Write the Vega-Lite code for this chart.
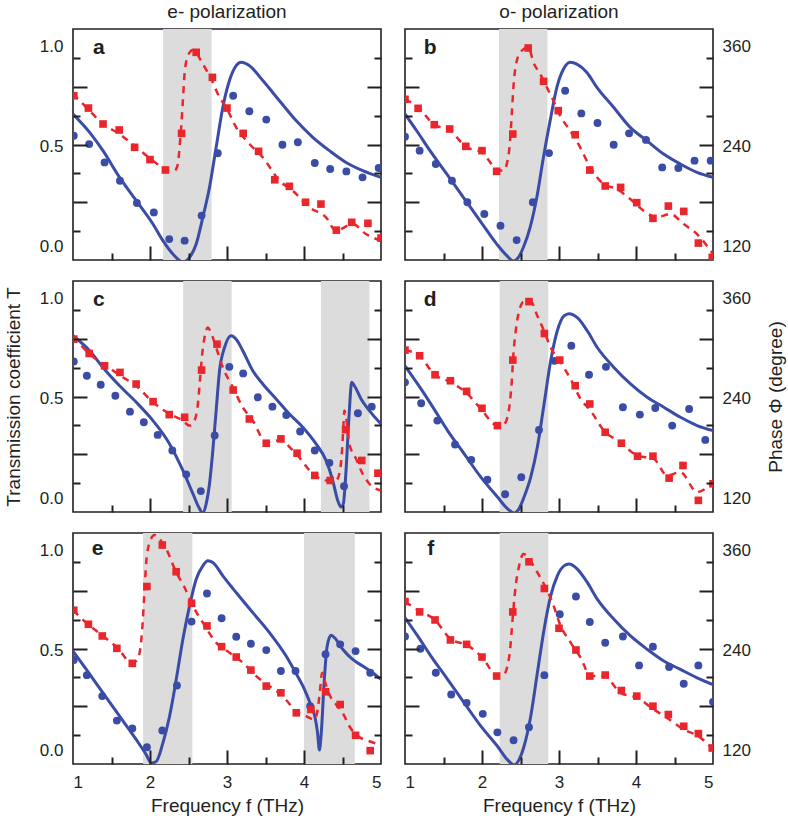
{
  "$schema": "https://vega.github.io/schema/vega-lite/v6.json",
  "padding": {"left": 3, "top": 2, "right": 2, "bottom": 2},
  "config": {
    "view": {"stroke": "#231f20", "strokeWidth": 1.6},
    "font": "Liberation Sans",
    "axis": {"labelFont": "Liberation Sans", "titleFont": "Liberation Sans", "labelColor": "#231f20", "titleColor": "#231f20", "tickColor": "#231f20", "tickWidth": 2, "labelFontSize": 17, "titleFontSize": 19, "titleFontWeight": "normal", "grid": false, "domain": false},
    "title": {"font": "Liberation Sans", "color": "#231f20"},
    "text": {"font": "Liberation Sans", "fontSize": 21, "fontWeight": "bold", "align": "left", "baseline": "alphabetic", "color": "#231f20"}
  },
  "datasets": {
    "aB": [{"f": 2.17, "f2": 2.8}],
    "aC": [{"f":1.0,"T":0.663},{"f":1.216,"T":0.571},{"f":1.389,"T":0.479},{"f":1.605,"T":0.345},{"f":1.822,"T":0.228},{"f":2.038,"T":0.111},{"f":2.168,"T":0.027},{"f":2.297,"T":-0.04},{"f":2.427,"T":-0.08},{"f":2.514,"T":-0.057},{"f":2.6,"T":0.01},{"f":2.686,"T":0.144},{"f":2.773,"T":0.295},{"f":2.859,"T":0.496},{"f":2.946,"T":0.697},{"f":3.032,"T":0.831},{"f":3.119,"T":0.906},{"f":3.184,"T":0.923},{"f":3.292,"T":0.906},{"f":3.465,"T":0.831},{"f":3.681,"T":0.73},{"f":3.897,"T":0.63},{"f":4.114,"T":0.546},{"f":4.33,"T":0.479},{"f":4.546,"T":0.42},{"f":4.762,"T":0.379},{"f":5.0,"T":0.345}],
    "aM": [{"f":1.01,"T":0.554},{"f":1.21,"T":0.512},{"f":1.41,"T":0.42},{"f":1.61,"T":0.328},{"f":1.83,"T":0.216},{"f":2.05,"T":0.169},{"f":2.25,"T":0.035},{"f":2.45,"T":0.027},{"f":2.67,"T":0.153},{"f":2.88,"T":0.466},{"f":3.08,"T":0.755},{"f":3.29,"T":0.677},{"f":3.51,"T":0.635},{"f":3.72,"T":0.509},{"f":3.92,"T":0.521},{"f":4.14,"T":0.417},{"f":4.34,"T":0.387},{"f":4.55,"T":0.375},{"f":4.76,"T":0.345},{"f":4.97,"T":0.392}],
    "aPC": [{"f":1.0,"P":303.2},{"f":1.173,"P":287.2},{"f":1.389,"P":267.1},{"f":1.605,"P":255.0},{"f":1.822,"P":239.0},{"f":2.038,"P":222.9},{"f":2.254,"P":210.8},{"f":2.319,"P":210.8},{"f":2.362,"P":218.9},{"f":2.384,"P":239.0},{"f":2.405,"P":263.1},{"f":2.427,"P":295.2},{"f":2.449,"P":327.4},{"f":2.492,"P":349.5},{"f":2.557,"P":356.3},{"f":2.686,"P":339.4},{"f":2.795,"P":321.3},{"f":2.903,"P":299.2},{"f":2.989,"P":287.2},{"f":3.119,"P":263.1},{"f":3.292,"P":243.0},{"f":3.465,"P":226.9},{"f":3.681,"P":198.8},{"f":3.854,"P":186.7},{"f":4.07,"P":166.6},{"f":4.286,"P":154.6},{"f":4.416,"P":138.5},{"f":4.632,"P":146.6},{"f":4.805,"P":134.5},{"f":5.0,"P":126.5}],
    "aPM": [{"f":1.01,"P":301.2},{"f":1.2,"P":286.3},{"f":1.39,"P":267.1},{"f":1.6,"P":259.9},{"f":1.8,"P":239.0},{"f":2.0,"P":224.2},{"f":2.2,"P":211.7},{"f":2.41,"P":255.8},{"f":2.6,"P":353.5},{"f":2.81,"P":323.3},{"f":3.0,"P":286.3},{"f":3.21,"P":255.8},{"f":3.41,"P":234.2},{"f":3.62,"P":199.9},{"f":3.81,"P":192.0},{"f":4.02,"P":172.8},{"f":4.22,"P":170.6},{"f":4.42,"P":139.2},{"f":4.62,"P":148.6},{"f":4.83,"P":147.4},{"f":5.0,"P":129.6}],
    "bB": [{"f": 2.22, "f2": 2.85}],
    "bC": [{"f":1.0,"T":0.663},{"f":1.152,"T":0.579},{"f":1.325,"T":0.479},{"f":1.542,"T":0.362},{"f":1.758,"T":0.245},{"f":1.975,"T":0.127},{"f":2.192,"T":0.01},{"f":2.322,"T":-0.048},{"f":2.408,"T":-0.075},{"f":2.473,"T":-0.057},{"f":2.538,"T":-0.006},{"f":2.625,"T":0.094},{"f":2.712,"T":0.245},{"f":2.798,"T":0.446},{"f":2.885,"T":0.63},{"f":2.972,"T":0.797},{"f":3.059,"T":0.889},{"f":3.145,"T":0.923},{"f":3.232,"T":0.914},{"f":3.362,"T":0.872},{"f":3.492,"T":0.797},{"f":3.709,"T":0.697},{"f":3.925,"T":0.596},{"f":4.142,"T":0.529},{"f":4.359,"T":0.462},{"f":4.575,"T":0.412},{"f":4.792,"T":0.37},{"f":5.0,"T":0.345}],
    "bM": [{"f":1.0,"T":0.549},{"f":1.19,"T":0.479},{"f":1.4,"T":0.412},{"f":1.61,"T":0.328},{"f":1.81,"T":0.22},{"f":2.03,"T":0.161},{"f":2.24,"T":0.102},{"f":2.45,"T":0.03},{"f":2.66,"T":0.22},{"f":2.87,"T":0.467},{"f":3.08,"T":0.78},{"f":3.29,"T":0.666},{"f":3.5,"T":0.618},{"f":3.71,"T":0.509},{"f":3.91,"T":0.566},{"f":4.13,"T":0.533},{"f":4.34,"T":0.395},{"f":4.55,"T":0.392},{"f":4.76,"T":0.429},{"f":4.97,"T":0.429}],
    "bPC": [{"f":1.0,"P":296.8},{"f":1.173,"P":287.2},{"f":1.368,"P":267.1},{"f":1.585,"P":259.0},{"f":1.802,"P":239.0},{"f":1.997,"P":232.9},{"f":2.192,"P":212.8},{"f":2.278,"P":210.8},{"f":2.322,"P":218.9},{"f":2.365,"P":247.0},{"f":2.387,"P":279.2},{"f":2.408,"P":311.3},{"f":2.452,"P":343.4},{"f":2.517,"P":355.5},{"f":2.603,"P":359.5},{"f":2.668,"P":341.4},{"f":2.755,"P":327.4},{"f":2.842,"P":311.3},{"f":2.928,"P":295.2},{"f":3.015,"P":277.1},{"f":3.145,"P":259.0},{"f":3.275,"P":239.0},{"f":3.405,"P":214.9},{"f":3.579,"P":194.8},{"f":3.752,"P":188.7},{"f":3.925,"P":176.7},{"f":4.099,"P":162.6},{"f":4.272,"P":154.6},{"f":4.445,"P":158.6},{"f":4.619,"P":146.5},{"f":4.792,"P":134.5},{"f":5.0,"P":110.4}],
    "bPM": [{"f":1.0,"P":296.8},{"f":1.17,"P":286.0},{"f":1.38,"P":266.3},{"f":1.58,"P":261.1},{"f":1.79,"P":240.2},{"f":2.0,"P":235.0},{"f":2.19,"P":210.1},{"f":2.4,"P":255.0},{"f":2.6,"P":358.7},{"f":2.8,"P":318.5},{"f":2.99,"P":283.2},{"f":3.21,"P":254.2},{"f":3.4,"P":211.6},{"f":3.6,"P":192.4},{"f":3.8,"P":190.7},{"f":4.01,"P":172.3},{"f":4.22,"P":153.4},{"f":4.42,"P":168.2},{"f":4.62,"P":161.8},{"f":4.81,"P":123.6},{"f":4.99,"P":106.4}],
    "cB": [{"f": 2.43, "f2": 3.06}, {"f": 4.22, "f2": 4.85}],
    "cC": [{"f":1.0,"T":0.815},{"f":1.216,"T":0.74},{"f":1.389,"T":0.656},{"f":1.605,"T":0.564},{"f":1.822,"T":0.481},{"f":2.038,"T":0.389},{"f":2.254,"T":0.272},{"f":2.427,"T":0.139},{"f":2.557,"T":0.022},{"f":2.643,"T":-0.053},{"f":2.686,"T":-0.075},{"f":2.73,"T":-0.028},{"f":2.773,"T":0.072},{"f":2.816,"T":0.239},{"f":2.859,"T":0.439},{"f":2.903,"T":0.639},{"f":2.968,"T":0.756},{"f":3.054,"T":0.815},{"f":3.119,"T":0.798},{"f":3.205,"T":0.74},{"f":3.335,"T":0.639},{"f":3.465,"T":0.573},{"f":3.638,"T":0.498},{"f":3.811,"T":0.422},{"f":3.984,"T":0.356},{"f":4.157,"T":0.272},{"f":4.286,"T":0.189},{"f":4.373,"T":0.089},{"f":4.438,"T":-0.012},{"f":4.481,"T":-0.045},{"f":4.511,"T":-0.028},{"f":4.546,"T":0.139},{"f":4.589,"T":0.439},{"f":4.619,"T":0.581},{"f":4.654,"T":0.564},{"f":4.741,"T":0.498},{"f":4.849,"T":0.439},{"f":5.0,"T":0.372}],
    "cM": [{"f":1.01,"T":0.686},{"f":1.18,"T":0.614},{"f":1.36,"T":0.569},{"f":1.55,"T":0.514},{"f":1.74,"T":0.434},{"f":1.92,"T":0.381},{"f":2.1,"T":0.317},{"f":2.29,"T":0.239},{"f":2.47,"T":0.119},{"f":2.66,"T":0.035},{"f":2.84,"T":0.314},{"f":3.03,"T":0.659},{"f":3.21,"T":0.626},{"f":3.4,"T":0.506},{"f":3.59,"T":0.459},{"f":3.77,"T":0.417},{"f":3.95,"T":0.334},{"f":4.14,"T":0.239},{"f":4.33,"T":0.177},{"f":4.52,"T":0.059},{"f":4.7,"T":0.426},{"f":4.88,"T":0.459}],
    "cPC": [{"f":1.0,"P":315.5},{"f":1.216,"P":293.5},{"f":1.432,"P":279.4},{"f":1.649,"P":265.4},{"f":1.822,"P":255.4},{"f":2.038,"P":235.4},{"f":2.254,"P":221.4},{"f":2.427,"P":213.4},{"f":2.514,"P":207.3},{"f":2.578,"P":213.4},{"f":2.622,"P":233.4},{"f":2.652,"P":265.4},{"f":2.678,"P":293.5},{"f":2.708,"P":313.5},{"f":2.751,"P":325.5},{"f":2.782,"P":321.5},{"f":2.859,"P":301.5},{"f":2.946,"P":277.4},{"f":3.076,"P":253.4},{"f":3.205,"P":229.4},{"f":3.335,"P":213.4},{"f":3.508,"P":187.3},{"f":3.681,"P":189.3},{"f":3.897,"P":173.3},{"f":4.114,"P":149.3},{"f":4.286,"P":141.2},{"f":4.416,"P":141.2},{"f":4.459,"P":149.3},{"f":4.494,"P":177.3},{"f":4.511,"P":205.3},{"f":4.524,"P":225.4},{"f":4.546,"P":217.4},{"f":4.589,"P":185.4},{"f":4.676,"P":167.3},{"f":4.762,"P":149.3},{"f":4.849,"P":137.2},{"f":5.0,"P":129.2}],
    "cPM": [{"f":1.01,"P":311.5},{"f":1.21,"P":294.3},{"f":1.41,"P":279.4},{"f":1.61,"P":271.4},{"f":1.82,"P":257.4},{"f":2.04,"P":236.2},{"f":2.25,"P":220.6},{"f":2.45,"P":217.4},{"f":2.67,"P":274.2},{"f":2.87,"P":305.5},{"f":3.08,"P":250.2},{"f":3.29,"P":215.3},{"f":3.51,"P":186.1},{"f":3.7,"P":191.3},{"f":3.91,"P":174.1},{"f":4.14,"P":147.3},{"f":4.34,"P":141.2},{"f":4.54,"P":202.5},{"f":4.75,"P":165.3},{"f":4.96,"P":150.0}],
    "dB": [{"f": 2.23, "f2": 2.86}],
    "dC": [{"f":1.0,"T":0.664},{"f":1.164,"T":0.573},{"f":1.337,"T":0.472},{"f":1.553,"T":0.339},{"f":1.769,"T":0.222},{"f":1.985,"T":0.105},{"f":2.201,"T":0.005},{"f":2.33,"T":-0.053},{"f":2.417,"T":-0.075},{"f":2.482,"T":-0.053},{"f":2.546,"T":0.005},{"f":2.633,"T":0.105},{"f":2.719,"T":0.256},{"f":2.806,"T":0.472},{"f":2.892,"T":0.689},{"f":2.978,"T":0.84},{"f":3.065,"T":0.915},{"f":3.13,"T":0.926},{"f":3.238,"T":0.906},{"f":3.367,"T":0.84},{"f":3.497,"T":0.756},{"f":3.713,"T":0.656},{"f":3.929,"T":0.573},{"f":4.145,"T":0.506},{"f":4.361,"T":0.456},{"f":4.577,"T":0.406},{"f":4.793,"T":0.364},{"f":5.0,"T":0.339}],
    "dM": [{"f":1.0,"T":0.581},{"f":1.21,"T":0.476},{"f":1.42,"T":0.389},{"f":1.65,"T":0.269},{"f":1.86,"T":0.192},{"f":2.07,"T":0.092},{"f":2.3,"T":0.019},{"f":2.51,"T":0.105},{"f":2.74,"T":0.342},{"f":2.94,"T":0.689},{"f":3.16,"T":0.765},{"f":3.39,"T":0.619},{"f":3.61,"T":0.659},{"f":3.83,"T":0.456},{"f":4.05,"T":0.419},{"f":4.25,"T":0.452},{"f":4.47,"T":0.364},{"f":4.69,"T":0.447},{"f":4.9,"T":0.292}],
    "dPC": [{"f":1.0,"P":298.3},{"f":1.186,"P":291.5},{"f":1.38,"P":269.4},{"f":1.596,"P":259.4},{"f":1.791,"P":247.4},{"f":1.985,"P":227.4},{"f":2.201,"P":207.3},{"f":2.287,"P":209.3},{"f":2.33,"P":217.4},{"f":2.365,"P":237.4},{"f":2.387,"P":261.4},{"f":2.408,"P":293.5},{"f":2.438,"P":321.5},{"f":2.482,"P":345.5},{"f":2.546,"P":356.8},{"f":2.633,"P":356.8},{"f":2.719,"P":339.5},{"f":2.806,"P":321.5},{"f":2.892,"P":301.5},{"f":3.022,"P":283.5},{"f":3.151,"P":263.4},{"f":3.281,"P":239.4},{"f":3.41,"P":225.4},{"f":3.583,"P":201.3},{"f":3.799,"P":187.3},{"f":4.015,"P":171.3},{"f":4.231,"P":167.3},{"f":4.404,"P":147.2},{"f":4.577,"P":151.2},{"f":4.793,"P":127.2},{"f":5.0,"P":139.2}],
    "dPM": [{"f":1.0,"P":298.3},{"f":1.19,"P":291.5},{"f":1.39,"P":268.6},{"f":1.59,"P":261.4},{"f":1.8,"P":248.6},{"f":2.0,"P":228.2},{"f":2.2,"P":207.3},{"f":2.4,"P":286.3},{"f":2.61,"P":356.8},{"f":2.81,"P":318.3},{"f":3.01,"P":286.3},{"f":3.21,"P":255.4},{"f":3.4,"P":233.4},{"f":3.6,"P":199.3},{"f":3.81,"P":186.1},{"f":4.02,"P":170.5},{"f":4.22,"P":170.5},{"f":4.43,"P":144.0},{"f":4.61,"P":159.3},{"f":4.81,"P":117.2},{"f":5.0,"P":137.2}],
    "eB": [{"f": 1.91, "f2": 2.55}, {"f": 4.0, "f2": 4.66}],
    "eC": [{"f":1.0,"T":0.497},{"f":1.173,"T":0.405},{"f":1.389,"T":0.287},{"f":1.605,"T":0.17},{"f":1.822,"T":0.052},{"f":1.951,"T":-0.023},{"f":2.016,"T":-0.065},{"f":2.081,"T":-0.057},{"f":2.168,"T":0.036},{"f":2.254,"T":0.17},{"f":2.341,"T":0.355},{"f":2.427,"T":0.556},{"f":2.514,"T":0.724},{"f":2.6,"T":0.858},{"f":2.686,"T":0.925},{"f":2.751,"T":0.951},{"f":2.816,"T":0.942},{"f":2.946,"T":0.875},{"f":3.119,"T":0.791},{"f":3.335,"T":0.69},{"f":3.551,"T":0.59},{"f":3.768,"T":0.472},{"f":3.889,"T":0.39},{"f":4.0,"T":0.31},{"f":4.08,"T":0.235},{"f":4.14,"T":0.17},{"f":4.175,"T":0.09},{"f":4.2,"T":0.0},{"f":4.225,"T":0.09},{"f":4.26,"T":0.33},{"f":4.3,"T":0.52},{"f":4.351,"T":0.576},{"f":4.395,"T":0.565},{"f":4.503,"T":0.506},{"f":4.632,"T":0.455},{"f":4.762,"T":0.422},{"f":4.892,"T":0.388},{"f":5.0,"T":0.355}],
    "eM": [{"f":1.01,"T":0.452},{"f":1.18,"T":0.376},{"f":1.38,"T":0.271},{"f":1.57,"T":0.148},{"f":1.77,"T":0.108},{"f":1.96,"T":0.014},{"f":2.16,"T":0.098},{"f":2.35,"T":0.324},{"f":2.54,"T":0.645},{"f":2.74,"T":0.786},{"f":2.93,"T":0.662},{"f":3.12,"T":0.569},{"f":3.31,"T":0.534},{"f":3.51,"T":0.502},{"f":3.7,"T":0.397},{"f":3.89,"T":0.397},{"f":4.08,"T":0.22},{"f":4.28,"T":0.481},{"f":4.47,"T":0.531},{"f":4.67,"T":0.497},{"f":4.86,"T":0.388}],
    "ePC": [{"f":1.0,"P":288.5},{"f":1.195,"P":271.6},{"f":1.389,"P":257.5},{"f":1.584,"P":242.6},{"f":1.757,"P":225.3},{"f":1.822,"P":227.3},{"f":1.865,"P":237.4},{"f":1.899,"P":265.6},{"f":1.925,"P":305.9},{"f":1.951,"P":346.1},{"f":1.995,"P":370.3},{"f":2.059,"P":379.2},{"f":2.124,"P":374.3},{"f":2.211,"P":362.3},{"f":2.341,"P":334.1},{"f":2.449,"P":315.9},{"f":2.557,"P":293.8},{"f":2.686,"P":273.6},{"f":2.859,"P":249.5},{"f":3.032,"P":237.4},{"f":3.205,"P":225.3},{"f":3.378,"P":209.2},{"f":3.551,"P":197.1},{"f":3.724,"P":185.0},{"f":3.897,"P":166.9},{"f":4.027,"P":160.8},{"f":4.135,"P":156.8},{"f":4.178,"P":168.9},{"f":4.209,"P":193.0},{"f":4.235,"P":213.2},{"f":4.27,"P":203.1},{"f":4.33,"P":187.0},{"f":4.416,"P":174.9},{"f":4.503,"P":164.8},{"f":4.589,"P":148.7},{"f":4.676,"P":138.7},{"f":4.849,"P":130.6},{"f":5.0,"P":126.6}],
    "ePM": [{"f":1.01,"P":288.5},{"f":1.2,"P":271.6},{"f":1.38,"P":257.5},{"f":1.57,"P":242.6},{"f":1.77,"P":224.5},{"f":1.96,"P":317.1},{"f":2.16,"P":367.1},{"f":2.34,"P":334.9},{"f":2.54,"P":297.0},{"f":2.74,"P":269.6},{"f":2.93,"P":244.6},{"f":3.12,"P":232.1},{"f":3.31,"P":216.4},{"f":3.51,"P":197.1},{"f":3.7,"P":189.0},{"f":3.9,"P":164.9},{"f":4.09,"P":168.9},{"f":4.28,"P":190.2},{"f":4.47,"P":174.9},{"f":4.67,"P":137.8},{"f":4.86,"P":119.3}],
    "fB": [{"f": 2.23, "f2": 2.86}],
    "fC": [{"f":1.0,"T":0.665},{"f":1.164,"T":0.573},{"f":1.337,"T":0.472},{"f":1.553,"T":0.355},{"f":1.769,"T":0.237},{"f":1.985,"T":0.12},{"f":2.201,"T":0.019},{"f":2.33,"T":-0.048},{"f":2.417,"T":-0.075},{"f":2.482,"T":-0.048},{"f":2.546,"T":0.019},{"f":2.633,"T":0.17},{"f":2.719,"T":0.388},{"f":2.806,"T":0.606},{"f":2.892,"T":0.774},{"f":2.978,"T":0.875},{"f":3.065,"T":0.925},{"f":3.13,"T":0.934},{"f":3.238,"T":0.909},{"f":3.367,"T":0.842},{"f":3.497,"T":0.758},{"f":3.713,"T":0.657},{"f":3.929,"T":0.573},{"f":4.145,"T":0.506},{"f":4.361,"T":0.447},{"f":4.577,"T":0.405},{"f":4.793,"T":0.363},{"f":5.0,"T":0.329}],
    "fM": [{"f":1.0,"T":0.57},{"f":1.2,"T":0.509},{"f":1.4,"T":0.388},{"f":1.6,"T":0.279},{"f":1.8,"T":0.237},{"f":2.01,"T":0.182},{"f":2.2,"T":0.089},{"f":2.41,"T":0.049},{"f":2.61,"T":0.115},{"f":2.81,"T":0.376},{"f":3.01,"T":0.682},{"f":3.22,"T":0.771},{"f":3.4,"T":0.643},{"f":3.6,"T":0.539},{"f":3.83,"T":0.57},{"f":4.04,"T":0.425},{"f":4.22,"T":0.519},{"f":4.43,"T":0.417},{"f":4.62,"T":0.333},{"f":4.81,"T":0.425},{"f":5.0,"T":0.242}],
    "fPC": [{"f":1.0,"P":299.0},{"f":1.186,"P":287.7},{"f":1.38,"P":277.6},{"f":1.596,"P":253.5},{"f":1.812,"P":246.2},{"f":2.006,"P":231.3},{"f":2.201,"P":209.2},{"f":2.287,"P":211.2},{"f":2.33,"P":221.2},{"f":2.365,"P":241.4},{"f":2.387,"P":265.6},{"f":2.408,"P":289.7},{"f":2.438,"P":318.0},{"f":2.482,"P":342.1},{"f":2.538,"P":356.2},{"f":2.611,"P":350.2},{"f":2.719,"P":334.1},{"f":2.827,"P":315.9},{"f":2.914,"P":297.8},{"f":3.022,"P":269.6},{"f":3.151,"P":249.5},{"f":3.281,"P":231.3},{"f":3.41,"P":209.2},{"f":3.583,"P":209.2},{"f":3.799,"P":189.0},{"f":4.015,"P":183.0},{"f":4.231,"P":168.9},{"f":4.404,"P":158.8},{"f":4.62,"P":144.7},{"f":4.814,"P":136.6},{"f":5.0,"P":120.5}],
    "fPM": [{"f":1.0,"P":299.0},{"f":1.19,"P":286.5},{"f":1.39,"P":276.8},{"f":1.59,"P":252.7},{"f":1.8,"P":247.4},{"f":2.0,"P":232.1},{"f":2.19,"P":209.2},{"f":2.4,"P":286.5},{"f":2.61,"P":346.9},{"f":2.81,"P":314.7},{"f":3.0,"P":266.8},{"f":3.22,"P":240.6},{"f":3.4,"P":209.2},{"f":3.6,"P":210.4},{"f":3.81,"P":191.8},{"f":4.01,"P":185.0},{"f":4.22,"P":172.9},{"f":4.42,"P":162.8},{"f":4.62,"P":148.7},{"f":4.81,"P":139.8},{"f":4.99,"P":122.5}]
  },
  "columns": 2,
  "spacing": {"row": 21, "column": 24},
  "bounds": "flush",
  "concat": [
    {
      "width": 308, "height": 231,
      "title": {"text": "e- polarization", "fontSize": 19, "fontWeight": "normal", "anchor": "middle", "frame": "group", "baseline": "alphabetic", "offset": -8},
      "layer": [
        {"data": {"name": "aB"}, "mark": {"type": "rect", "color": "#dcdcdc", "clip": true}, "encoding": {"x": {"field": "f", "type": "quantitative", "scale": {"domain": [1, 5], "nice": false}, "axis": null}, "x2": {"field": "f2"}}},
        {"data": {"name": "aC"}, "mark": {"type": "line", "color": "#3a4ca6", "strokeWidth": 3, "interpolate": "monotone", "clip": true}, "encoding": {"x": {"field": "f", "type": "quantitative", "scale": {"domain": [1, 5], "nice": false}, "axis": {"orient": "bottom", "values": [1.5, 2, 2.5, 3, 3.5, 4, 4.5], "labels": false, "title": null, "zindex": 1, "tickSize": {"condition": {"test": "datum.value % 1 === 0", "value": -14}, "value": -7}}}, "y": {"field": "T", "type": "quantitative", "scale": {"domain": [-0.07, 1.09], "nice": false, "zero": false}, "axis": {"orient": "left", "values": [0, 0.5, 1], "format": ".1f", "ticks": false, "labelPadding": 10, "title": null}}}},
        {"data": {"name": "aM"}, "mark": {"type": "point", "shape": "circle", "filled": true, "opacity": 1, "color": "#3a4ca6", "size": 62, "clip": true}, "encoding": {"x": {"field": "f", "type": "quantitative", "scale": {"domain": [1, 5], "nice": false}, "axis": null}, "y": {"field": "T", "type": "quantitative", "scale": {"domain": [-0.07, 1.09], "nice": false, "zero": false}, "axis": {"orient": "left", "values": [0.075, 0.22, 0.365, 0.51, 0.655, 0.8, 0.945], "labels": false, "title": null, "zindex": 1, "tickSize": {"condition": {"test": "datum.value === 0.22 || datum.value === 0.51 || datum.value === 0.8", "value": -14}, "value": -7}}}}},
        {"data": {"name": "aPC"}, "mark": {"type": "line", "color": "#e9262c", "strokeWidth": 2.5, "strokeDash": [7, 6], "interpolate": "monotone", "clip": true}, "encoding": {"x": {"field": "f", "type": "quantitative", "scale": {"domain": [1, 5], "nice": false}, "axis": null}, "y": {"field": "P", "type": "quantitative", "scale": {"domain": [103.2, 381.6], "nice": false, "zero": false}, "axis": null}}},
        {"data": {"name": "aPM"}, "mark": {"type": "square", "filled": true, "opacity": 1, "color": "#e9262c", "size": 58, "clip": true}, "encoding": {"x": {"field": "f", "type": "quantitative", "scale": {"domain": [1, 5], "nice": false}, "axis": null}, "y": {"field": "P", "type": "quantitative", "scale": {"domain": [103.2, 381.6], "nice": false, "zero": false}, "axis": {"orient": "right", "values": [138, 172.8, 207.6, 242.4, 277.2, 312, 346.8], "labels": false, "title": null, "zindex": 1, "tickSize": {"condition": {"test": "datum.value === 172.8 || datum.value === 242.4 || datum.value === 312", "value": -14}, "value": -7}}}}},
        {"data": {"values": [{"panel": "a"}]}, "mark": {"type": "text"}, "encoding": {"text": {"field": "panel"}, "x": {"datum": 1.26, "type": "quantitative", "scale": {"domain": [1, 5], "nice": false}, "axis": null}, "y": {"datum": 0.965, "type": "quantitative", "scale": {"domain": [-0.07, 1.09], "nice": false, "zero": false}, "axis": null}}}
      ],
      "resolve": {"scale": {"x": "independent", "y": "independent"}}
    },
    {
      "width": 308, "height": 231,
      "title": {"text": "o- polarization", "fontSize": 19, "fontWeight": "normal", "anchor": "middle", "frame": "group", "baseline": "alphabetic", "offset": -8},
      "layer": [
        {"data": {"name": "bB"}, "mark": {"type": "rect", "color": "#dcdcdc", "clip": true}, "encoding": {"x": {"field": "f", "type": "quantitative", "scale": {"domain": [1, 5], "nice": false}, "axis": null}, "x2": {"field": "f2"}}},
        {"data": {"name": "bC"}, "mark": {"type": "line", "color": "#3a4ca6", "strokeWidth": 3, "interpolate": "monotone", "clip": true}, "encoding": {"x": {"field": "f", "type": "quantitative", "scale": {"domain": [1, 5], "nice": false}, "axis": {"orient": "bottom", "values": [1.5, 2, 2.5, 3, 3.5, 4, 4.5], "labels": false, "title": null, "zindex": 1, "tickSize": {"condition": {"test": "datum.value % 1 === 0", "value": -14}, "value": -7}}}, "y": {"field": "T", "type": "quantitative", "scale": {"domain": [-0.07, 1.09], "nice": false, "zero": false}, "axis": null}}},
        {"data": {"name": "bM"}, "mark": {"type": "point", "shape": "circle", "filled": true, "opacity": 1, "color": "#3a4ca6", "size": 62, "clip": true}, "encoding": {"x": {"field": "f", "type": "quantitative", "scale": {"domain": [1, 5], "nice": false}, "axis": null}, "y": {"field": "T", "type": "quantitative", "scale": {"domain": [-0.07, 1.09], "nice": false, "zero": false}, "axis": {"orient": "left", "values": [0.075, 0.22, 0.365, 0.51, 0.655, 0.8, 0.945], "labels": false, "title": null, "zindex": 1, "tickSize": {"condition": {"test": "datum.value === 0.22 || datum.value === 0.51 || datum.value === 0.8", "value": -14}, "value": -7}}}}},
        {"data": {"name": "bPC"}, "mark": {"type": "line", "color": "#e9262c", "strokeWidth": 2.5, "strokeDash": [7, 6], "interpolate": "monotone", "clip": true}, "encoding": {"x": {"field": "f", "type": "quantitative", "scale": {"domain": [1, 5], "nice": false}, "axis": null}, "y": {"field": "P", "type": "quantitative", "scale": {"domain": [103.2, 381.6], "nice": false, "zero": false}, "axis": {"orient": "right", "values": [120, 240, 360], "format": "d", "ticks": false, "labelPadding": 9, "title": null}}}},
        {"data": {"name": "bPM"}, "mark": {"type": "square", "filled": true, "opacity": 1, "color": "#e9262c", "size": 58, "clip": true}, "encoding": {"x": {"field": "f", "type": "quantitative", "scale": {"domain": [1, 5], "nice": false}, "axis": null}, "y": {"field": "P", "type": "quantitative", "scale": {"domain": [103.2, 381.6], "nice": false, "zero": false}, "axis": {"orient": "right", "values": [138, 172.8, 207.6, 242.4, 277.2, 312, 346.8], "labels": false, "title": null, "zindex": 1, "tickSize": {"condition": {"test": "datum.value === 172.8 || datum.value === 242.4 || datum.value === 312", "value": -14}, "value": -7}}}}},
        {"data": {"values": [{"panel": "b"}]}, "mark": {"type": "text"}, "encoding": {"text": {"field": "panel"}, "x": {"datum": 1.245, "type": "quantitative", "scale": {"domain": [1, 5], "nice": false}, "axis": null}, "y": {"datum": 0.965, "type": "quantitative", "scale": {"domain": [-0.07, 1.09], "nice": false, "zero": false}, "axis": null}}}
      ],
      "resolve": {"scale": {"x": "independent", "y": "independent"}}
    },
    {
      "width": 308, "height": 231,
      "layer": [
        {"data": {"name": "cB"}, "mark": {"type": "rect", "color": "#dcdcdc", "clip": true}, "encoding": {"x": {"field": "f", "type": "quantitative", "scale": {"domain": [1, 5], "nice": false}, "axis": null}, "x2": {"field": "f2"}}},
        {"data": {"name": "cC"}, "mark": {"type": "line", "color": "#3a4ca6", "strokeWidth": 3, "interpolate": "monotone", "clip": true}, "encoding": {"x": {"field": "f", "type": "quantitative", "scale": {"domain": [1, 5], "nice": false}, "axis": {"orient": "bottom", "values": [1.5, 2, 2.5, 3, 3.5, 4, 4.5], "labels": false, "title": null, "zindex": 1, "tickSize": {"condition": {"test": "datum.value % 1 === 0", "value": -14}, "value": -7}}}, "y": {"field": "T", "type": "quantitative", "scale": {"domain": [-0.07, 1.09], "nice": false, "zero": false}, "axis": {"orient": "left", "values": [0, 0.5, 1], "format": ".1f", "ticks": false, "labelPadding": 10, "title": "Transmission coefficient T", "titlePadding": 16}}}},
        {"data": {"name": "cM"}, "mark": {"type": "point", "shape": "circle", "filled": true, "opacity": 1, "color": "#3a4ca6", "size": 62, "clip": true}, "encoding": {"x": {"field": "f", "type": "quantitative", "scale": {"domain": [1, 5], "nice": false}, "axis": null}, "y": {"field": "T", "type": "quantitative", "scale": {"domain": [-0.07, 1.09], "nice": false, "zero": false}, "axis": {"orient": "left", "values": [0.075, 0.22, 0.365, 0.51, 0.655, 0.8, 0.945], "labels": false, "title": null, "zindex": 1, "tickSize": {"condition": {"test": "datum.value === 0.22 || datum.value === 0.51 || datum.value === 0.8", "value": -14}, "value": -7}}}}},
        {"data": {"name": "cPC"}, "mark": {"type": "line", "color": "#e9262c", "strokeWidth": 2.5, "strokeDash": [7, 6], "interpolate": "monotone", "clip": true}, "encoding": {"x": {"field": "f", "type": "quantitative", "scale": {"domain": [1, 5], "nice": false}, "axis": null}, "y": {"field": "P", "type": "quantitative", "scale": {"domain": [103.2, 381.6], "nice": false, "zero": false}, "axis": null}}},
        {"data": {"name": "cPM"}, "mark": {"type": "square", "filled": true, "opacity": 1, "color": "#e9262c", "size": 58, "clip": true}, "encoding": {"x": {"field": "f", "type": "quantitative", "scale": {"domain": [1, 5], "nice": false}, "axis": null}, "y": {"field": "P", "type": "quantitative", "scale": {"domain": [103.2, 381.6], "nice": false, "zero": false}, "axis": {"orient": "right", "values": [138, 172.8, 207.6, 242.4, 277.2, 312, 346.8], "labels": false, "title": null, "zindex": 1, "tickSize": {"condition": {"test": "datum.value === 172.8 || datum.value === 242.4 || datum.value === 312", "value": -14}, "value": -7}}}}},
        {"data": {"values": [{"panel": "c"}]}, "mark": {"type": "text"}, "encoding": {"text": {"field": "panel"}, "x": {"datum": 1.26, "type": "quantitative", "scale": {"domain": [1, 5], "nice": false}, "axis": null}, "y": {"datum": 0.965, "type": "quantitative", "scale": {"domain": [-0.07, 1.09], "nice": false, "zero": false}, "axis": null}}}
      ],
      "resolve": {"scale": {"x": "independent", "y": "independent"}}
    },
    {
      "width": 308, "height": 231,
      "layer": [
        {"data": {"name": "dB"}, "mark": {"type": "rect", "color": "#dcdcdc", "clip": true}, "encoding": {"x": {"field": "f", "type": "quantitative", "scale": {"domain": [1, 5], "nice": false}, "axis": null}, "x2": {"field": "f2"}}},
        {"data": {"name": "dC"}, "mark": {"type": "line", "color": "#3a4ca6", "strokeWidth": 3, "interpolate": "monotone", "clip": true}, "encoding": {"x": {"field": "f", "type": "quantitative", "scale": {"domain": [1, 5], "nice": false}, "axis": {"orient": "bottom", "values": [1.5, 2, 2.5, 3, 3.5, 4, 4.5], "labels": false, "title": null, "zindex": 1, "tickSize": {"condition": {"test": "datum.value % 1 === 0", "value": -14}, "value": -7}}}, "y": {"field": "T", "type": "quantitative", "scale": {"domain": [-0.07, 1.09], "nice": false, "zero": false}, "axis": null}}},
        {"data": {"name": "dM"}, "mark": {"type": "point", "shape": "circle", "filled": true, "opacity": 1, "color": "#3a4ca6", "size": 62, "clip": true}, "encoding": {"x": {"field": "f", "type": "quantitative", "scale": {"domain": [1, 5], "nice": false}, "axis": null}, "y": {"field": "T", "type": "quantitative", "scale": {"domain": [-0.07, 1.09], "nice": false, "zero": false}, "axis": {"orient": "left", "values": [0.075, 0.22, 0.365, 0.51, 0.655, 0.8, 0.945], "labels": false, "title": null, "zindex": 1, "tickSize": {"condition": {"test": "datum.value === 0.22 || datum.value === 0.51 || datum.value === 0.8", "value": -14}, "value": -7}}}}},
        {"data": {"name": "dPC"}, "mark": {"type": "line", "color": "#e9262c", "strokeWidth": 2.5, "strokeDash": [7, 6], "interpolate": "monotone", "clip": true}, "encoding": {"x": {"field": "f", "type": "quantitative", "scale": {"domain": [1, 5], "nice": false}, "axis": null}, "y": {"field": "P", "type": "quantitative", "scale": {"domain": [103.2, 381.6], "nice": false, "zero": false}, "axis": {"orient": "right", "values": [120, 240, 360], "format": "d", "ticks": false, "labelPadding": 9, "title": "Phase Φ (degree)", "titleAngle": 270, "titleBaseline": "top", "titlePadding": 16}}}},
        {"data": {"name": "dPM"}, "mark": {"type": "square", "filled": true, "opacity": 1, "color": "#e9262c", "size": 58, "clip": true}, "encoding": {"x": {"field": "f", "type": "quantitative", "scale": {"domain": [1, 5], "nice": false}, "axis": null}, "y": {"field": "P", "type": "quantitative", "scale": {"domain": [103.2, 381.6], "nice": false, "zero": false}, "axis": {"orient": "right", "values": [138, 172.8, 207.6, 242.4, 277.2, 312, 346.8], "labels": false, "title": null, "zindex": 1, "tickSize": {"condition": {"test": "datum.value === 172.8 || datum.value === 242.4 || datum.value === 312", "value": -14}, "value": -7}}}}},
        {"data": {"values": [{"panel": "d"}]}, "mark": {"type": "text"}, "encoding": {"text": {"field": "panel"}, "x": {"datum": 1.245, "type": "quantitative", "scale": {"domain": [1, 5], "nice": false}, "axis": null}, "y": {"datum": 0.965, "type": "quantitative", "scale": {"domain": [-0.07, 1.09], "nice": false, "zero": false}, "axis": null}}}
      ],
      "resolve": {"scale": {"x": "independent", "y": "independent"}}
    },
    {
      "width": 308, "height": 231,
      "layer": [
        {"data": {"name": "eB"}, "mark": {"type": "rect", "color": "#dcdcdc", "clip": true}, "encoding": {"x": {"field": "f", "type": "quantitative", "scale": {"domain": [1, 5], "nice": false}, "axis": {"orient": "bottom", "values": [1, 2, 3, 4, 5], "format": "d", "ticks": false, "labelFlush": true, "labelPadding": 10, "title": "Frequency f (THz)", "titlePadding": 6}}, "x2": {"field": "f2"}}},
        {"data": {"name": "eC"}, "mark": {"type": "line", "color": "#3a4ca6", "strokeWidth": 3, "interpolate": "monotone", "clip": true}, "encoding": {"x": {"field": "f", "type": "quantitative", "scale": {"domain": [1, 5], "nice": false}, "axis": {"orient": "bottom", "values": [1.5, 2, 2.5, 3, 3.5, 4, 4.5], "labels": false, "title": null, "zindex": 1, "tickSize": {"condition": {"test": "datum.value % 1 === 0", "value": -14}, "value": -7}}}, "y": {"field": "T", "type": "quantitative", "scale": {"domain": [-0.07, 1.09], "nice": false, "zero": false}, "axis": {"orient": "left", "values": [0, 0.5, 1], "format": ".1f", "ticks": false, "labelPadding": 10, "title": null}}}},
        {"data": {"name": "eM"}, "mark": {"type": "point", "shape": "circle", "filled": true, "opacity": 1, "color": "#3a4ca6", "size": 62, "clip": true}, "encoding": {"x": {"field": "f", "type": "quantitative", "scale": {"domain": [1, 5], "nice": false}, "axis": null}, "y": {"field": "T", "type": "quantitative", "scale": {"domain": [-0.07, 1.09], "nice": false, "zero": false}, "axis": {"orient": "left", "values": [0.075, 0.22, 0.365, 0.51, 0.655, 0.8, 0.945], "labels": false, "title": null, "zindex": 1, "tickSize": {"condition": {"test": "datum.value === 0.22 || datum.value === 0.51 || datum.value === 0.8", "value": -14}, "value": -7}}}}},
        {"data": {"name": "ePC"}, "mark": {"type": "line", "color": "#e9262c", "strokeWidth": 2.5, "strokeDash": [7, 6], "interpolate": "monotone", "clip": true}, "encoding": {"x": {"field": "f", "type": "quantitative", "scale": {"domain": [1, 5], "nice": false}, "axis": null}, "y": {"field": "P", "type": "quantitative", "scale": {"domain": [103.2, 381.6], "nice": false, "zero": false}, "axis": null}}},
        {"data": {"name": "ePM"}, "mark": {"type": "square", "filled": true, "opacity": 1, "color": "#e9262c", "size": 58, "clip": true}, "encoding": {"x": {"field": "f", "type": "quantitative", "scale": {"domain": [1, 5], "nice": false}, "axis": null}, "y": {"field": "P", "type": "quantitative", "scale": {"domain": [103.2, 381.6], "nice": false, "zero": false}, "axis": {"orient": "right", "values": [138, 172.8, 207.6, 242.4, 277.2, 312, 346.8], "labels": false, "title": null, "zindex": 1, "tickSize": {"condition": {"test": "datum.value === 172.8 || datum.value === 242.4 || datum.value === 312", "value": -14}, "value": -7}}}}},
        {"data": {"values": [{"panel": "e"}]}, "mark": {"type": "text"}, "encoding": {"text": {"field": "panel"}, "x": {"datum": 1.245, "type": "quantitative", "scale": {"domain": [1, 5], "nice": false}, "axis": null}, "y": {"datum": 0.98, "type": "quantitative", "scale": {"domain": [-0.07, 1.09], "nice": false, "zero": false}, "axis": null}}}
      ],
      "resolve": {"scale": {"x": "independent", "y": "independent"}}
    },
    {
      "width": 308, "height": 231,
      "layer": [
        {"data": {"name": "fB"}, "mark": {"type": "rect", "color": "#dcdcdc", "clip": true}, "encoding": {"x": {"field": "f", "type": "quantitative", "scale": {"domain": [1, 5], "nice": false}, "axis": {"orient": "bottom", "values": [1, 2, 3, 4, 5], "format": "d", "ticks": false, "labelFlush": true, "labelPadding": 10, "title": "Frequency f (THz)", "titlePadding": 6}}, "x2": {"field": "f2"}}},
        {"data": {"name": "fC"}, "mark": {"type": "line", "color": "#3a4ca6", "strokeWidth": 3, "interpolate": "monotone", "clip": true}, "encoding": {"x": {"field": "f", "type": "quantitative", "scale": {"domain": [1, 5], "nice": false}, "axis": {"orient": "bottom", "values": [1.5, 2, 2.5, 3, 3.5, 4, 4.5], "labels": false, "title": null, "zindex": 1, "tickSize": {"condition": {"test": "datum.value % 1 === 0", "value": -14}, "value": -7}}}, "y": {"field": "T", "type": "quantitative", "scale": {"domain": [-0.07, 1.09], "nice": false, "zero": false}, "axis": null}}},
        {"data": {"name": "fM"}, "mark": {"type": "point", "shape": "circle", "filled": true, "opacity": 1, "color": "#3a4ca6", "size": 62, "clip": true}, "encoding": {"x": {"field": "f", "type": "quantitative", "scale": {"domain": [1, 5], "nice": false}, "axis": null}, "y": {"field": "T", "type": "quantitative", "scale": {"domain": [-0.07, 1.09], "nice": false, "zero": false}, "axis": {"orient": "left", "values": [0.075, 0.22, 0.365, 0.51, 0.655, 0.8, 0.945], "labels": false, "title": null, "zindex": 1, "tickSize": {"condition": {"test": "datum.value === 0.22 || datum.value === 0.51 || datum.value === 0.8", "value": -14}, "value": -7}}}}},
        {"data": {"name": "fPC"}, "mark": {"type": "line", "color": "#e9262c", "strokeWidth": 2.5, "strokeDash": [7, 6], "interpolate": "monotone", "clip": true}, "encoding": {"x": {"field": "f", "type": "quantitative", "scale": {"domain": [1, 5], "nice": false}, "axis": null}, "y": {"field": "P", "type": "quantitative", "scale": {"domain": [103.2, 381.6], "nice": false, "zero": false}, "axis": {"orient": "right", "values": [120, 240, 360], "format": "d", "ticks": false, "labelPadding": 9, "title": null}}}},
        {"data": {"name": "fPM"}, "mark": {"type": "square", "filled": true, "opacity": 1, "color": "#e9262c", "size": 58, "clip": true}, "encoding": {"x": {"field": "f", "type": "quantitative", "scale": {"domain": [1, 5], "nice": false}, "axis": null}, "y": {"field": "P", "type": "quantitative", "scale": {"domain": [103.2, 381.6], "nice": false, "zero": false}, "axis": {"orient": "right", "values": [138, 172.8, 207.6, 242.4, 277.2, 312, 346.8], "labels": false, "title": null, "zindex": 1, "tickSize": {"condition": {"test": "datum.value === 172.8 || datum.value === 242.4 || datum.value === 312", "value": -14}, "value": -7}}}}},
        {"data": {"values": [{"panel": "f"}]}, "mark": {"type": "text"}, "encoding": {"text": {"field": "panel"}, "x": {"datum": 1.29, "type": "quantitative", "scale": {"domain": [1, 5], "nice": false}, "axis": null}, "y": {"datum": 0.98, "type": "quantitative", "scale": {"domain": [-0.07, 1.09], "nice": false, "zero": false}, "axis": null}}}
      ],
      "resolve": {"scale": {"x": "independent", "y": "independent"}}
    }
  ]
}
